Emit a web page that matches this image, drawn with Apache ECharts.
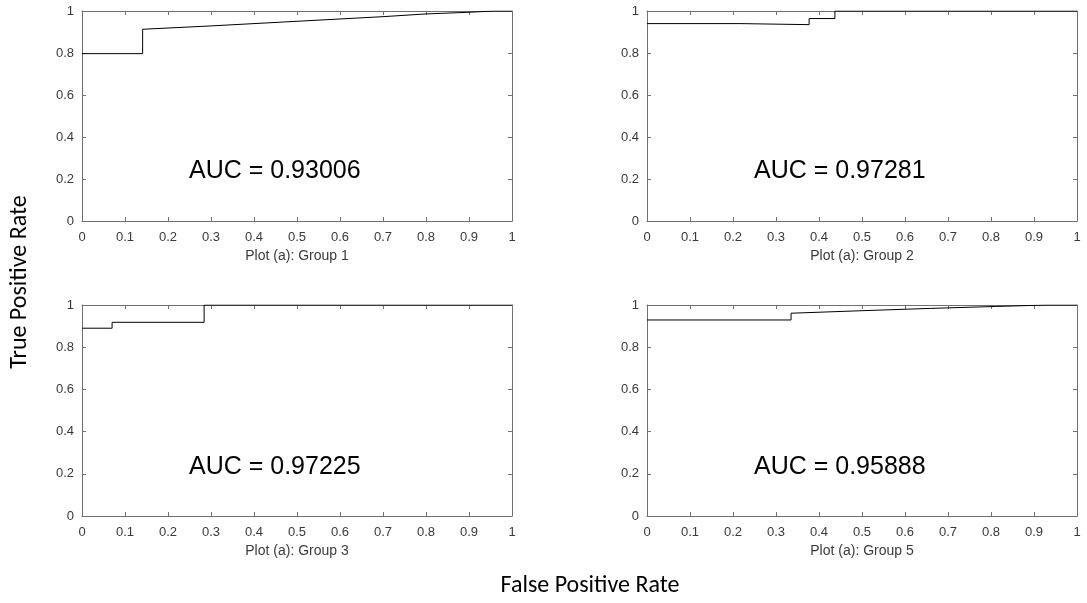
<!DOCTYPE html>
<html>
<head>
<meta charset="utf-8">
<script src="https://cdn.jsdelivr.net/npm/echarts@6/dist/echarts.min.js"></script>
<style>html,body{margin:0;padding:0;background:#fff}#c{width:1087px;height:603px}</style>
</head>
<body>
<div id="c"></div>
<script>
// ROC curve points [FPR, TPR]
const roc1 = [[0,0.797],[0.141,0.797],[0.141,0.913],[0.3,0.929],[0.5,0.951],[0.7,0.973],[0.8,0.986],[0.9,0.994],[0.957,1],[1,1]];
const roc2 = [[0,0.94],[0.216,0.94],[0.216,0.935],[0.377,0.935],[0.377,0.964],[0.437,0.964],[0.437,1],[1,1]];
const roc3 = [[0,0.89],[0.07,0.89],[0.07,0.918],[0.284,0.918],[0.284,1],[1,1]];
const roc5 = [[0,0.929],[0.335,0.929],[0.335,0.961],[0.5,0.973],[0.66,0.984],[0.81,0.993],[0.93,1],[1,1]];
const panelTitles = ['Plot (a): Group 1','Plot (a): Group 2','Plot (a): Group 3','Plot (a): Group 5'];
const aucLabels = ['AUC = 0.93006','AUC = 0.97281','AUC = 0.97225','AUC = 0.95888'];
const rocs = [roc1, roc2, roc3, roc5];
const xTitle = 'False Positive Rate';
const yTitle = 'True Positive Rate';

const grids = [
  {left:82, top:11, width:430, height:210},
  {left:647, top:11, width:430, height:210},
  {left:82, top:305, width:430, height:211},
  {left:647, top:305, width:430, height:211}
];
const aucTops = [159, 159, 455, 455];
const axisCol = '#707070';
const labelCol = '#3a3a3a';
const xAxes = [], yAxes = [], series = [], graphics = [];
function common(extra) {
  return Object.assign({
    type:'value', min:0, max:1,
    axisLine:{show:true, onZero:false, lineStyle:{color:axisCol}},
    axisTick:{show:true, inside:true, length:4, lineStyle:{color:axisCol}},
    splitLine:{show:false}
  }, extra);
}
grids.forEach((g, i) => {
  xAxes.push(common({gridIndex:i, interval:0.1, position:'bottom',
    axisLabel:{color:labelCol, fontSize:13, fontFamily:'Arial', margin:10},
    name:panelTitles[i], nameLocation:'middle', nameGap:28,
    nameTextStyle:{color:labelCol, fontSize:14, fontFamily:'Arial'}}));
  xAxes.push(common({gridIndex:i, interval:0.1, position:'top', axisLabel:{show:false}}));
  yAxes.push(common({gridIndex:i, interval:0.2, position:'left',
    axisLabel:{color:labelCol, fontSize:13, fontFamily:'Arial', margin:8}}));
  yAxes.push(common({gridIndex:i, interval:0.2, position:'right', axisLabel:{show:false}}));
  series.push({type:'line', xAxisIndex:2*i, yAxisIndex:2*i, data:rocs[i], symbol:'none',
    lineStyle:{color:'#000', width:1}, silent:true, animation:false});
  graphics.push({type:'text', left:g.left + 107, top:aucTops[i],
    style:{text:aucLabels[i], font:'25px Arial', fill:'#000'}});
});
graphics.push({type:'text', x:590, y:586, style:{text:xTitle, font:'24px Carlito, "Open Sans", sans-serif', fill:'#000', textAlign:'center', textVerticalAlign:'middle'}});
graphics.push({type:'text', x:20, y:282, rotation:Math.PI/2, style:{text:yTitle, font:'24px Carlito, "Open Sans", sans-serif', fill:'#000', textAlign:'center', textVerticalAlign:'middle'}});

const chart = echarts.init(document.getElementById('c'));
chart.setOption({animation:false, grid:grids, xAxis:xAxes, yAxis:yAxes, series:series, graphic:graphics});
</script>
</body>
</html>
